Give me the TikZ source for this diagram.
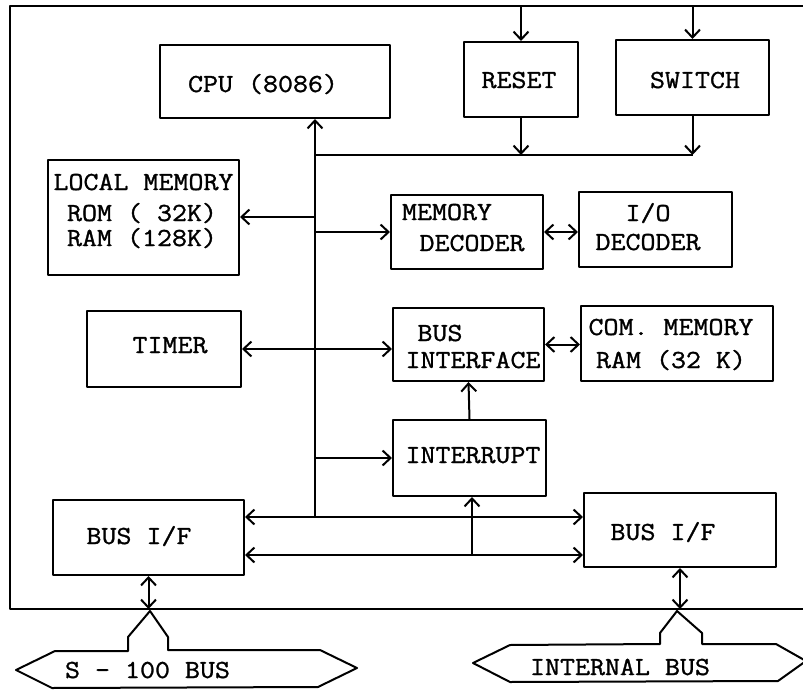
\documentclass[tikz,border=0pt]{standalone}
\usepackage{fontspec}
\newfontfamily\tw[FakeStretch=1.12, FakeBold=1.2]{Latin Modern Mono}
\usetikzlibrary{arrows.meta}
\begin{document}
\begin{tikzpicture}[x=1pt,y=-1pt,
  ln/.style={line width=2pt, line join=round},
  box/.style={ln, draw, inner sep=0pt},
  lbl/.style={font=\tw\fontsize{26}{26}\selectfont, inner sep=0pt, anchor=base},
  tip/.tip={Straight Barb[length=8pt,width=15pt,line width=2pt]},
  arr/.style={ln, -tip},
  darr/.style={ln, tip-tip}
]
\useasboundingbox (0,0) rectangle (803,690);

% frame (open on the right)
\draw[ln] (803,6) -- (10,6) -- (10,609) -- (803,609);
\coordinate (ftop) at (10,6);
\coordinate (fbot) at (10,609);

% boxes
\node[box, minimum width=230pt, minimum height=73pt] (cpu) at (275,81.5) {};
\node[box, minimum width=114pt, minimum height=75pt] (reset) at (521,79.5) {};
\node[box, minimum width=153pt, minimum height=75pt] (switch) at (692.5,77.5) {};
\node[box, minimum width=191pt, minimum height=115pt] (lm) at (143.5,217) {};
\node[box, minimum width=152pt, minimum height=74pt] (memdec) at (467,232) {};
\node[box, minimum width=153pt, minimum height=75pt] (iodec) at (655.5,229.5) {};
\node[box, minimum width=154pt, minimum height=76pt] (timer) at (164,349) {};
\node[box, minimum width=151pt, minimum height=73pt] (busint) at (468.5,344.5) {};
\node[box, minimum width=192pt, minimum height=75pt] (commem) at (677,343.5) {};
\node[box, minimum width=153pt, minimum height=76pt] (intr) at (469.5,458) {};
\node[box, minimum width=191pt, minimum height=75pt] (bifl) at (148.5,537.5) {};
\node[box, minimum width=192pt, minimum height=74pt] (bifr) at (680,530) {};

% labels
\node[lbl] (cpu-t) at (263,92) {CPU (8086)};
\node[lbl] (reset-t) at (519,88) {RESET};
\node[lbl] (switch-t) at (695,88) {SWITCH};
\node[lbl] (lm-t1) at (143.5,190) {LOCAL MEMORY};
\node[lbl] (lm-t2) at (142,221) {ROM ( 32K)};
\node[lbl] (lm-t3) at (142,246) {RAM (128K)};
\node[lbl] (memdec-t1) at (447,220) {MEMORY};
\node[lbl] (memdec-t2) at (472,251) {DECODER};
\node[lbl] (iodec-t1) at (648,221) {I/O};
\node[lbl] (iodec-t2) at (648,250) {DECODER};
\node[lbl] (timer-t) at (170,353) {TIMER};
\node[lbl] (busint-t1) at (440,341) {BUS};
\node[lbl] (busint-t2) at (473,368) {INTERFACE};
\node[lbl] (commem-t1) at (671,335) {COM. MEMORY};
\node[lbl] (commem-t2) at (671,368) {RAM (32 K)};
\node[lbl] (intr-t) at (473,463) {INTERRUPT};
\node[lbl] (bifl-t) at (139,544) {BUS I/F};
\node[lbl] (bifr-t) at (663,540) {BUS I/F};

% main vertical bus
\coordinate (vb) at (315,517);
\coordinate (hl) at (315,155);
\coordinate (lb) at (472,555);
\draw[arr] (vb) -- (vb |- cpu.south);
\draw[ln] (hl) -- (switch.south |- hl);
\draw[arr] (reset.south) -- (reset.south |- hl);
\draw[arr] (switch.south) -- (switch.south |- hl);
\draw[arr] (reset.north |- ftop) -- (reset.north);
\draw[arr] (switch.north |- ftop) -- (switch.north);

\draw[arr] (vb |- lm.east) -- (lm.east);
\draw[arr] (vb |- memdec.west) -- (memdec.west);
\draw[darr] (memdec.east) -- (memdec.east -| iodec.west);
\draw[darr] (timer.east) -- (timer.east -| busint.west);
\draw[darr] (busint.east) -- (busint.east -| commem.west);
\draw[arr] (intr.north) -- (busint.south);
\draw[arr] (vb |- intr.west) -- (intr.west);

\draw[darr] (bifl.east |- vb) -- (bifr.west |- vb);
\draw[darr] (bifl.east |- lb) -- (bifr.west |- lb);
\draw[arr] (lb) -- (lb |- intr.south);

\draw[darr] (bifl.south) -- (bifl.south |- fbot);
\draw[darr] (bifr.south) -- (bifr.south |- fbot);

% S-100 bus
\draw[ln] (150,611) -- (128,637) -- (128,651) -- (55,651) -- (16,670)
  -- (52,688) -- (318,687) -- (357,668) -- (320,650) -- (168,650) -- (168,637) -- cycle;
\node[lbl] (s100) at (147.5,678) {S - 100  BUS};

% internal bus
\draw[ln] (677,611) -- (660,633) -- (660,644) -- (510,645) -- (473,663)
  -- (510,682) -- (778,681) -- (806,661) -- (776,644) -- (702,644) -- (702,633) -- cycle;
\node[lbl] (ibus) at (620,675) {INTERNAL  BUS};
\end{tikzpicture}
\end{document}
